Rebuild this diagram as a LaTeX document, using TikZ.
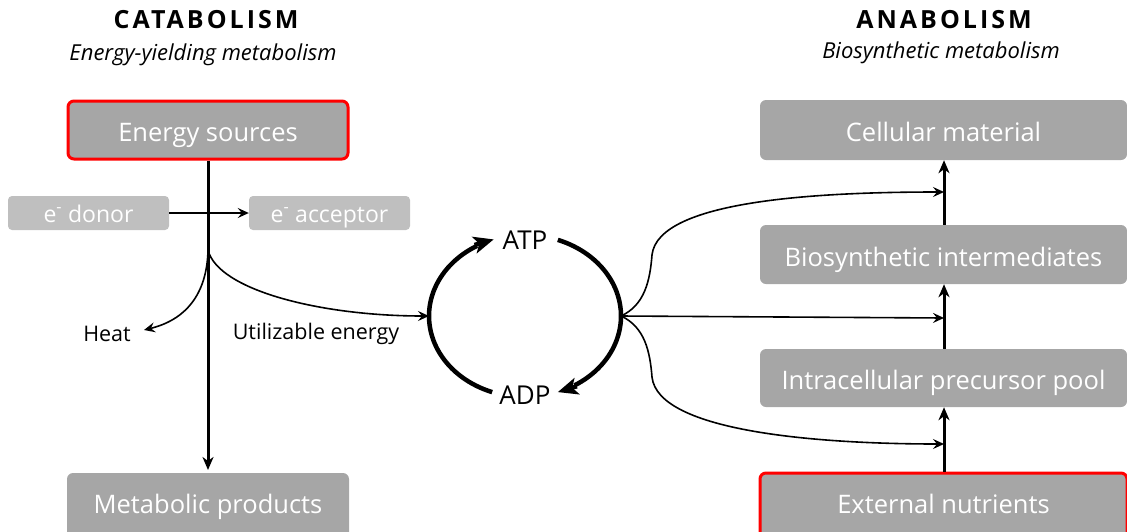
\documentclass[tikz,border=0pt]{standalone}
\usepackage{fontspec}
\setmainfont{Open Sans}
\usetikzlibrary{arrows.meta}
\definecolor{boxgray}{HTML}{A6A6A6}
\definecolor{lightgray}{HTML}{BFBFBF}
\definecolor{redborder}{HTML}{FF0000}
\tikzset{
  box/.style={rectangle, rounded corners=6pt, fill=boxgray, text=white, inner sep=0pt, text height=26pt, text depth=3pt, font=\fontsize{25.5}{28}\selectfont},
  redbox/.style={box, draw=redborder, line width=3pt},
  ebox/.style={rectangle, rounded corners=4pt, fill=lightgray, text=white, inner sep=0pt, minimum width=161pt, minimum height=34pt, text height=19pt, text depth=1pt, font=\fontsize{23}{26}\selectfont},
  thick arrow/.style={line width=3pt, -{Stealth[length=13pt, width=11pt, inset=4pt]}},
  thin arrow/.style={line width=1.6pt, -{Stealth[length=11pt, width=10pt, inset=4pt]}},
  cycle line/.style={line width=4.5pt},
  cycle tip/.style={line width=4.5pt, -{Stealth[length=20pt, width=17pt, inset=5pt]}},
  label/.style={font=\fontsize{21.5}{24}\selectfont, text=black},
  title/.style={font=\fontsize{25}{28}\selectfont\bfseries\addfontfeatures{LetterSpace=12}},
  subtitle/.style={font=\fontsize{22}{25}\selectfont\itshape},
}
\begin{document}
\begin{tikzpicture}[x=1pt, y=-1pt]
\useasboundingbox (0,0) rectangle (1127,531);
% titles
\node[title] (cat) at (206,20) {CATABOLISM};
\node[subtitle] (catsub) at (203,55) {Energy-yielding metabolism};
\node[title] (ana) at (944,20) {ANABOLISM};
\node[subtitle] (anasub) at (941,53) {Biosynthetic metabolism};
% catabolism boxes
\node[redbox, minimum width=280pt, minimum height=58pt] (es) at (208,130) {Energy sources};
\node[ebox] (don) at (88.5,213) {e\textsuperscript{-} donor};
\node[ebox] (acc) at (329.5,213) {e\textsuperscript{-} acceptor};
\node[box, minimum width=282pt, minimum height=66pt] (mp) at (208,506) {\raisebox{4pt}{Metabolic products}};
% anabolism boxes
\node[box, minimum width=367pt, minimum height=60pt] (cm) at (943.5,130) {Cellular material};
\node[box, minimum width=367pt, minimum height=59pt] (bi) at (943.5,254.5) {Biosynthetic intermediates};
\node[box, minimum width=367pt, minimum height=58pt] (ip) at (943.5,378) {Intracellular precursor pool};
\node[redbox, minimum width=367pt, minimum height=66pt] (en) at (943.5,506) {\raisebox{4pt}{External nutrients}};
% labels
\node[label] (heat) at (107,334) {Heat};
\node[label] (util) at (316,334) {Utilizable energy};
\node[font=\fontsize{26}{28}\selectfont] (atp) at (525,240) {ATP};
\node[font=\fontsize{26}{28}\selectfont] (adp) at (525,395) {ADP};
% catabolism connectors
\coordinate (j) at (208,250);
\draw[thick arrow] (es.south) -- (208,470) coordinate (mpt);
\draw[thin arrow, line width=2pt] (don.east) -- (acc.west);
\draw[thin arrow] (j) .. controls (207,295) and (185,320) .. (144,330);
\coordinate (cyl) at (429,316);
\draw[thin arrow] (j) .. controls (218,290) and (320,316) .. (cyl);
% cycle
\coordinate (ltipbase) at (474.5,245.0);
\coordinate (ltip) at (493.7,239.4);
\coordinate (rtipbase) at (576.9,386.2);
\coordinate (rtip) at (557.8,392.1);
\draw[cycle line] plot[domain=110:240, samples=50, smooth] ({525+96*cos(\x)},{316+81*sin(\x)});
\draw[cycle tip] (ltipbase) -- (ltip);
\draw[cycle line] plot[domain=290:419, samples=50, smooth] ({525+96*cos(\x)},{316+81*sin(\x)});
\draw[cycle tip] (rtipbase) -- (rtip);
% anabolism connectors
\coordinate (hub) at (621,316);
\draw[thin arrow] (hub) .. controls (645,305) and (650,280) .. (652,255) .. controls (658,200) and (820,192) .. (944,192);
\draw[thin arrow] (hub) -- (944,318);
\draw[thin arrow] (hub) .. controls (645,327) and (650,352) .. (652,377) .. controls (658,432) and (820,444) .. (944,444);
\draw[thick arrow] (en.north -| 944,0) -- (ip.south -| 944,0);
\draw[thick arrow] (ip.north -| 944,0) -- (bi.south -| 944,0);
\draw[thick arrow] (bi.north -| 944,0) -- (cm.south -| 944,0);
\end{tikzpicture}
\end{document}
